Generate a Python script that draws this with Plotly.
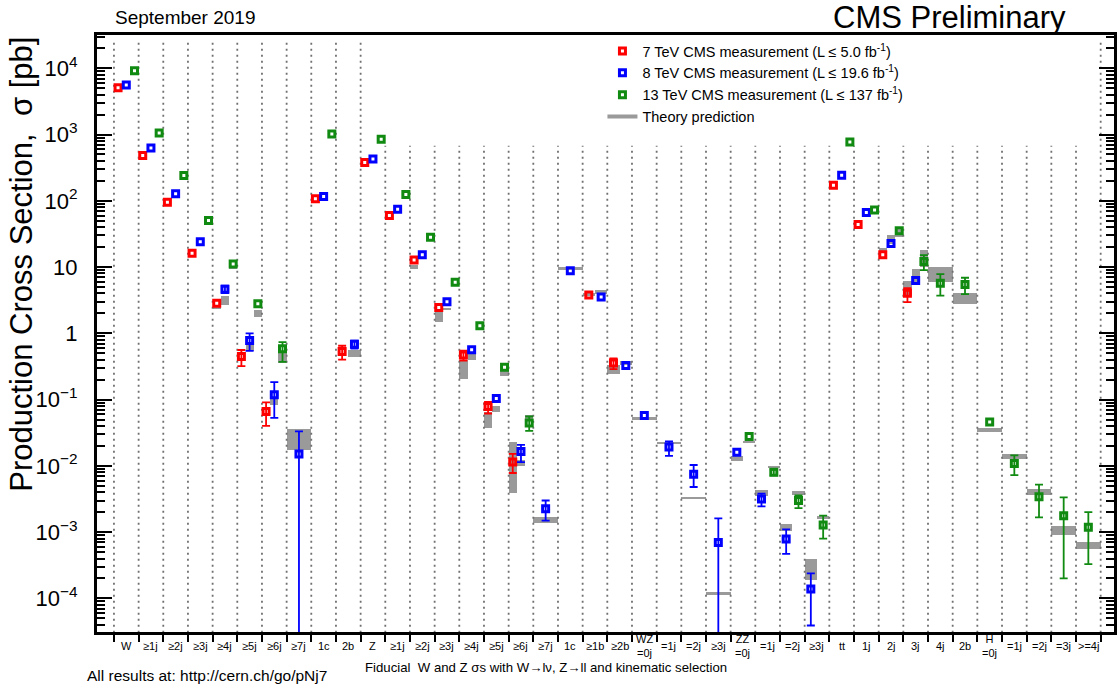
import plotly.graph_objects as go

# ---------------- data ----------------
labels = ["W", "≥1j", "≥2j", "≥3j", "≥4j", "≥5j", "≥6j", "≥7j", "1c", "2b",
          "Z", "≥1j", "≥2j", "≥3j", "≥4j", "≥5j", "≥6j", "≥7j", "1c", "≥1b", "≥2b",
          "WZ<br>=0j", "=1j", "=2j", "≥3j", "ZZ<br>=0j", "=1j", "=2j", "≥3j",
          "tt", "1j", "2j", "3j", "4j", "2b", "H<br>=0j", "=1j", "=2j", "=3j", ">=4j"]

# 7 TeV
r7_bin = [0, 1, 2, 3, 4, 5, 6, 8, 9, 10, 11, 12, 13, 14, 15, 16, 19, 20, 29, 30, 31, 32]
r7_val = [5100, 481, 95, 16.2, 2.85, 0.447, 0.066, 107, 0.532, 377, 59.8, 12.8, 2.45, 0.469, 0.0787, 0.0114,
          3.8, 0.356, 172, 43.7, 15.3, 4.04]
r7_eup = [None, None, None, None, None, 0.113, 0.025, None, 0.118, None, None, None, None, 0.08, 0.014, 0.0038,
          None, 0.064, None, None, None, 0.76]
r7_edn = [None, None, None, None, None, 0.127, 0.026, None, 0.132, None, None, None, None, 0.08, 0.017, 0.0036,
          None, 0.068, None, None, None, 1.08]
r7_tlo = [None, None, None, None, 2.3, None, None, None, None, None, None, 9.4, 1.46, 0.208, 0.037, 0.0039,
          3.6, 0.245, None, 48, 16.2, 3.6]
r7_thi = [None, None, None, None, 2.5, None, None, None, None, None, None, 10.8, 2.13, 0.40, 0.066, 0.0233,
          4.0, 0.335, None, 52, 19.5, 6.2]

# 8 TeV
b8_bin = list(range(0, 33))
b8_val = [5600, 628, 128, 24, 4.64, 0.78, 0.118, 0.0151, 116, 0.687,
          429, 74.7, 15.4, 2.99, 0.564, 0.104, 0.0165, 0.00225, 8.77, 3.52, 0.327,
          0.0575, 0.0192, 0.0075, 0.0007, 0.0161, 0.00316, 0.00079, 0.000139,
          243, 66.4, 22.6, 6.26]
b8_eup = [None, None, None, None, 0.6, 0.22, 0.066, 0.018, None, 0.09,
          None, None, None, None, None, None, 0.0043, 0.00075, None, None, None,
          None, 0.0041, 0.0028, 0.00091, None, 0.00064, 0.00031, 0.0001,
          None, None, None, None]
b8_edn = [None, None, None, None, 0.6, 0.235, 0.065, 0.0151, None, 0.1,
          None, None, None, None, None, None, 0.0051, 0.00076, None, None, None,
          None, 0.005, 0.0027, 0.0007, None, 0.00072, 0.00032, 0.0001,
          None, None, None, None]
b8_tlo = [None, None, None, None, 2.7, 0.55, 0.084, 0.0175, None, 0.44,
          None, None, None, 2.3, 0.40, 0.064, 0.0098, 0.00137, 9.0, 3.9, 0.335,
          0.050, 0.0218, 0.0032, 0.000114, 0.0119, 0.0035, 0.00103, 0.00019,
          None, None, 22.4, 5.4]
b8_thi = [None, None, None, None, 3.6, 0.71, 0.111, 0.0359, None, 0.56,
          None, None, None, 2.45, 0.50, 0.081, 0.0124, 0.00169, 9.9, 4.5, 0.376,
          0.054, 0.0232, 0.0034, 0.000125, 0.0139, 0.0044, 0.00132, 0.00039,
          None, None, 30.5, 9.5]

# 13 TeV
g13_bin = [0, 1, 2, 3, 4, 5, 6, 8, 10, 11, 12, 13, 14, 15, 16, 25, 26, 27, 28,
           29, 30, 31, 32, 33, 34, 35, 36, 37, 38, 39]
g13_val = [9200, 1057, 240, 50.3, 11.1, 2.79, 0.583, 1020, 849, 124, 28.3, 5.9, 1.30, 0.309, 0.0442,
           0.0277, 0.0080, 0.0030, 0.00128, 773, 72.9, 35.2, 12.1, 5.71, 5.45,
           0.0458, 0.01087, 0.00342, 0.00177, 0.00118]
g13_eup = [None, None, None, None, None, None, 0.153, None, None, None, None, None, None, None, 0.0114,
           None, 0.0008, 0.00057, 0.00049, None, None, None, 3.0, 2.1, 1.45,
           None, 0.0035, 0.0018, 0.00157, 0.00082]
g13_edn = [None, None, None, None, None, None, 0.212, None, None, None, None, None, None, None, 0.0104,
           None, 0.0008, 0.00069, 0.00048, None, None, None, 3.1, 2.0, 1.55,
           None, 0.0036, 0.00175, 0.00157, 0.00085]
g13_tlo = [None, None, None, None, 9.3, 1.79, 0.36, None, None, None, None, None, None, 0.23, 0.0495,
           0.0228, 0.0092, 0.0036, 0.0016, None, None, 28.8, 10.2, 5.9, 2.8,
           0.0324, 0.0127, 0.0036, 0.00092, 0.00056]
g13_thi = [None, None, None, None, 10.3, 2.26, 0.50, None, None, None, None, None, None, 0.28, 0.059,
           0.0238, 0.0100, 0.0042, 0.00175, None, None, 40.7, 17.8, 9.9, 4.0,
           0.0376, 0.0151, 0.0045, 0.00122, 0.0007]

ytick_vals = [1e-4, 1e-3, 1e-2, 1e-1, 1, 10, 1e2, 1e3, 1e4]
ytick_text = ["10<sup>−4</sup>", "10<sup>−3</sup>", "10<sup>−2</sup>", "10<sup>−1</sup>", "1", "10",
              "10<sup>2</sup>", "10<sup>3</sup>", "10<sup>4</sup>"]

# ---------------- build ----------------
series = [
    dict(name="7 TeV CMS measurement (L ≤ 5.0 fb<sup>-1</sup>)", color="#ff0000",
         bins=r7_bin, val=r7_val, eup=r7_eup, edn=r7_edn, tlo=r7_tlo, thi=r7_thi),
    dict(name="8 TeV CMS measurement (L ≤ 19.6 fb<sup>-1</sup>)", color="#0000ff",
         bins=b8_bin, val=b8_val, eup=b8_eup, edn=b8_edn, tlo=b8_tlo, thi=b8_thi),
    dict(name="13 TeV CMS measurement (L ≤ 137 fb<sup>-1</sup>)", color="#118a11",
         bins=g13_bin, val=g13_val, eup=g13_eup, edn=g13_edn, tlo=g13_tlo, thi=g13_thi),
]

nbins = len(labels)
members = {i: [] for i in range(nbins)}
for si, s in enumerate(series):
    for b in s["bins"]:
        members[b].append(si)


def slot(si, b):
    n = len(members[b])
    k = members[b].index(si)
    return b + (k + 0.5) / n, 1.0 / n


fig = go.Figure()

# dotted separators
tall = set(list(range(0, 11)) + [nbins])
dx, dy = [], []
for b in range(nbins + 1):
    top = 10 ** 4.43 if b in tall else 10 ** 2.83
    dx += [b, b, None]
    dy += [10 ** -4.7, top, None]
fig.add_trace(go.Scatter(x=dx, y=dy, mode="lines", line=dict(color="#707070", width=1.8, dash="2px,4px"),
                         hoverinfo="skip", showlegend=False))

# theory boxes
tx, tw, tb, th = [], [], [], []
for si, s in enumerate(series):
    for b, lo, hi in zip(s["bins"], s["tlo"], s["thi"]):
        if lo is None:
            continue
        c, w = slot(si, b)
        tx.append(c)
        tw.append(w)
        tb.append(lo)
        th.append(hi - lo)
fig.add_trace(go.Bar(x=tx, y=th, base=tb, width=tw, marker=dict(color="#9a9a9a", line=dict(width=0)),
                     showlegend=False, hoverinfo="skip"))

# measurements
for si, s in enumerate(series):
    xe, ye, eu, ed, xn, yn = [], [], [], [], [], []
    for b, v, up, dn in zip(s["bins"], s["val"], s["eup"], s["edn"]):
        c, _ = slot(si, b)
        if up is None:
            xn.append(c)
            yn.append(v)
        else:
            xe.append(c)
            ye.append(v)
            eu.append(up)
            ed.append(dn)
    mk = dict(symbol="square-open", size=6, color=s["color"], line=dict(width=3, color=s["color"]))
    fig.add_trace(go.Scatter(x=xn, y=yn, mode="markers", marker=mk, name=s["name"],
                             legendgroup=s["name"], showlegend=True))
    fig.add_trace(go.Scatter(x=xe, y=ye, mode="markers", marker=mk, name=s["name"],
                             legendgroup=s["name"], showlegend=False,
                             error_y=dict(type="data", symmetric=False, array=eu, arrayminus=ed,
                                          color=s["color"], thickness=1.8, width=4)))

fig.add_trace(go.Scatter(x=[None], y=[None], mode="lines", line=dict(color="#9a9a9a", width=4),
                         name="Theory prediction"))

annotations = []
for i, lab in enumerate(labels):
    annotations.append(dict(x=i + 0.5, xref="x", y=-0.0235, yref="paper", text=lab, showarrow=False,
                            xanchor="center", yanchor="middle", font=dict(size=11)))
annotations += [
    dict(x=-0.0745, xref="paper", y=1.0, yref="paper", text="Production Cross Section,  σ [pb]",
         textangle=-90, showarrow=False, xanchor="center", yanchor="top", font=dict(size=31)),
    dict(x=0.0155, xref="paper", y=1.0285, yref="paper", text="September 2019", showarrow=False,
         xanchor="left", yanchor="middle", font=dict(size=19)),
    dict(x=0.954, xref="paper", y=1.0285, yref="paper", text="CMS Preliminary", showarrow=False,
         xanchor="right", yanchor="middle", font=dict(size=31), borderpad=0),
    dict(x=-0.0118, xref="paper", y=-0.0737, yref="paper", text="All results at: http://cern.ch/go/pNj7",
         showarrow=False, xanchor="left", yanchor="middle", font=dict(size=15.5)),
    dict(x=0.2617, xref="paper", y=-0.0603, yref="paper",
         text="Fiducial  W and Z σs with W→lν, Z→ll and kinematic selection",
         showarrow=False, xanchor="left", yanchor="middle", font=dict(size=13.2)),
]

minor_vals = [k * 10 ** e for e in range(-5, 5) for k in range(2, 10)]

fig.update_layout(
    width=1119, height=686,
    margin=dict(l=97, r=2, t=35, b=54),
    paper_bgcolor="white", plot_bgcolor="white",
    font=dict(family="Liberation Sans, Arial, sans-serif", color="black"),
    barmode="overlay", bargap=0,
    legend=dict(x=0.497, y=1.0, xanchor="left", yanchor="top", font=dict(size=14.5),
                bgcolor="rgba(0,0,0,0)", itemwidth=30, tracegroupgap=0),
    annotations=annotations,
    xaxis=dict(range=[-0.687, 40.54], showgrid=False, zeroline=False, showline=True, linewidth=3,
               linecolor="black", mirror=True, tickmode="array", tickvals=[], ticks="",
               showticklabels=False,
               minor=dict(tickmode="array", tickvals=list(range(nbins + 1)), ticks="outside", ticklen=7,
                          tickwidth=2, tickcolor="black", showgrid=False)),
    yaxis=dict(type="log", range=[-4.507, 4.502], showgrid=False, zeroline=False, showline=True,
               linewidth=3, linecolor="black", mirror="ticks", tickmode="array", tickvals=ytick_vals,
               ticktext=ytick_text, ticks="inside", ticklen=15, tickwidth=2, tickcolor="black",
               tickfont=dict(size=22), ticklabelstandoff=12,
               minor=dict(tickmode="array", tickvals=minor_vals, ticks="inside", ticklen=8, tickwidth=1.5,
                          tickcolor="black", showgrid=False)),
)

fig.write_html("out.html", config={"displayModeBar": False},
               post_script="document.body.style.margin='0';")
